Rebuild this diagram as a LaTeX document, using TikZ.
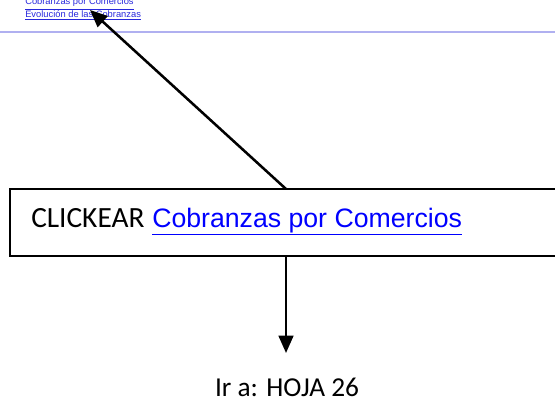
\documentclass[tikz,border=0pt]{standalone}
\usepackage{fontspec}
\setmainfont{Carlito}
\newfontfamily\arialf{Liberation Sans}
\usetikzlibrary{arrows.meta}
\definecolor{linkblue}{RGB}{0,0,255}
\definecolor{toplink}{RGB}{40,40,220}
\definecolor{sepline}{RGB}{176,176,240}
\tikzset{
  conn/.style={line width=1.9pt,-{Triangle[length=13pt,width=11pt]}},
  toptext/.style={font=\arialf\fontsize{7}{8}\selectfont,text=toplink,anchor=base west,inner sep=0pt},
}
\begin{document}
\begin{tikzpicture}[x=0.75pt,y=-0.75pt]
\useasboundingbox (0,0) rectangle (555,402);
\clip (0,0) rectangle (555,402);
\node[toptext] (l1) at (25,5) {\underline{Cobranzas por Comercios}};
\node[toptext] (l2) at (25,17.5) {\underline{Evolución de las Cobranzas}};
\draw[sepline,line width=1.1pt] (0,32) -- (555,32);
\draw[line width=1.3pt,fill=white] (10,189) rectangle (570,256);
\node[anchor=base west,inner sep=0pt,font=\fontsize{22}{26}\selectfont] (click) at (31,227) {CLICKEAR};
\node[anchor=base west,inner sep=0pt,font=\arialf\fontsize{20}{24}\selectfont,text=linkblue] (link) at (152,227) {\underline{Cobranzas por Comercios}};
\coordinate (boxtop) at (286,189);
\coordinate (boxbot) at (286,256);
\coordinate (tip) at (90,10);
\coordinate (down) at (286,353);
\draw[conn] (boxtop) -- (tip);
\draw[conn] (boxbot) -- (down);
\node[anchor=base,inner sep=0pt,font=\fontsize{20.5}{24}\selectfont] (ira) at (287,396) {Ir a: HOJA 26};
\end{tikzpicture}
\end{document}
